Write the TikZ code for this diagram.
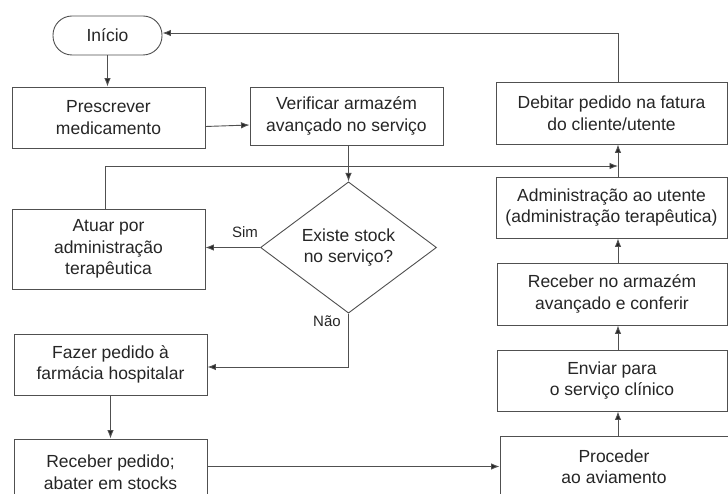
\documentclass[tikz,border=0pt]{standalone}
\usepackage{fontspec}
\setmainfont{Liberation Sans}
\usetikzlibrary{shapes.geometric,arrows.meta}
\definecolor{ink}{HTML}{262626}
\definecolor{lin}{HTML}{505050}
\begin{document}
\begin{tikzpicture}[x=1pt,y=-1pt,
  every node/.style={font=\fontsize{17.5}{21.5}\selectfont, text=ink, align=center},
  box/.style={draw=lin, line width=0.9pt, rectangle, inner sep=0pt},
  startbox/.style={draw=lin, line width=0.9pt, rectangle, rounded corners=19pt, minimum width=109pt, minimum height=39pt, inner sep=0pt},
  decision/.style={draw=lin, line width=0.9pt, diamond, inner sep=0pt, minimum width=176pt, minimum height=111pt},
  arr/.style={draw=lin, line width=0.9pt, -{Latex[length=8.5pt,width=6.5pt,fill=ink]}},
  ln/.style={draw=lin, line width=0.9pt},
  lbl/.style={font=\fontsize{15}{18}\selectfont}
]
\clip (0,0) rectangle (728,494);
\fill[white] (0,0) rectangle (728,494);

\node[startbox] (ini) at (107.5,35.5) {Início};
\node[box, minimum width=193pt, minimum height=61pt] (pres) at (108.5,117.5) {Prescrever\\medicamento};
\node[box, minimum width=193pt, minimum height=58pt] (ver) at (346.5,116) {Verificar armazém\\avançado no serviço};
\node[box, minimum width=231pt, minimum height=62pt] (deb) at (611.5,113) {Debitar pedido na fatura\\do cliente/utente};
\node[box, minimum width=231pt, minimum height=61pt] (adm) at (611.5,207.5) {Administração ao utente\\(administração terapêutica)};
\node[decision] (dec) at (348.5,247.5) {Existe stock\\no serviço?};
\node[box, minimum width=193pt, minimum height=80pt] (atu) at (108.5,249) {Atuar por\\administração\\terapêutica};
\node[box, minimum width=230pt, minimum height=62pt] (rec) at (612,294) {Receber no armazém\\avançado e conferir};
\node[box, minimum width=230pt, minimum height=61pt] (env) at (612,380.5) {Enviar para\\o serviço clínico};
\node[box, minimum width=193pt, minimum height=61pt] (faz) at (110.5,364.5) {Fazer pedido à\\farmácia hospitalar};
\node[box, minimum width=193pt, minimum height=66pt] (rp) at (110.5,472) {Receber pedido;\\abater em stocks};
\node[box, minimum width=228pt, minimum height=61pt] (proc) at (614,466.5) {Proceder\\ao aviamento};

\node[lbl] (sim) at (245,232) {Sim};
\node[lbl] (nao) at (327,321) {Não};

\coordinate (m) at (618,166);
\coordinate (topc) at (618,33);

% connectors
\draw[arr] (ini) -- (pres.north -| ini);
\draw[arr] ([yshift=-9pt]pres.east) -- ([yshift=-9pt]ver.west);
\draw[arr] (ver.south -| dec.north) -- (dec.north);
\draw[arr] (dec.west) -- (atu.east |- dec.west);
\draw[arr] (dec.south) |- ([yshift=-2.5pt]faz.east);
\draw[arr] (faz) -- (rp.north -| faz);
\draw[arr] (rp.east |- proc.west) -- (proc.west);
\draw[arr] (proc.north -| m) -- (env.south -| m);
\draw[arr] (env.north -| m) -- (rec.south -| m);
\draw[arr] (rec.north -| m) -- (adm.south -| m);
\draw[arr] (adm.north -| m) -- (deb.south -| m);
\draw[arr] ([xshift=-3.5pt]atu.north) |- (m);
\draw[ln] (deb.north -| m) -- (topc);
\draw[arr] (topc) -- (ini.east |- topc);
\end{tikzpicture}
\end{document}
